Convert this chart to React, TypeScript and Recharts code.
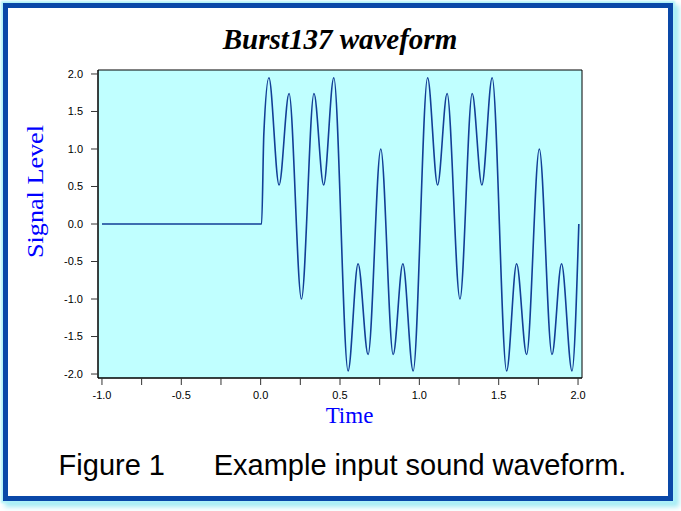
// Burst137Chart.tsx
import { LineChart, Line, XAxis, YAxis, CartesianGrid, ReferenceArea } from "recharts";

// time (s) and signal level, mostly at the turning points
const times = [
  -1.0, 0.006, 0.02, 0.052, 0.116, 0.179, 0.257, 0.336, 0.397, 0.461, 0.551,
  0.614, 0.677, 0.757, 0.835, 0.896, 0.961, 1.052, 1.115, 1.175, 1.256, 1.333,
  1.394, 1.459, 1.55, 1.613, 1.676, 1.756, 1.836, 1.896, 1.962, 2.005,
];
const levels = [
  0, 0, 1.2, 1.95, 0.52, 1.74, -1.0, 1.74, 0.52, 1.95, -1.96,
  -0.53, -1.74, 1.0, -1.74, -0.53, -1.96, 1.95, 0.52, 1.74, -1.0, 1.74,
  0.52, 1.95, -1.96, -0.53, -1.74, 1.0, -1.74, -0.53, -1.96, 0,
];

const xTicks = [-1, -0.75, -0.5, -0.25, 0, 0.25, 0.5, 0.75, 1, 1.25, 1.5, 1.75, 2];
const yTicks = [-2, -1.5, -1, -0.5, 0, 0.5, 1, 1.5, 2];

const data = times.map((t, i) => ({ t, v: levels[i] }));

const tickFont = { fontFamily: "'Liberation Sans', Arial, sans-serif", fontSize: 11, fill: "#000" };

const xLabel = (v: number) => (Math.abs(v * 2 - Math.round(v * 2)) < 1e-6 ? v.toFixed(1) : "");

export default function App() {
  return (
    <div
      style={{
        position: "absolute",
        left: 0,
        top: 0,
        width: 681,
        height: 511,
        background: "#fff",
        overflow: "hidden",
      }}
    >
      <div
        style={{
          position: "absolute",
          left: 3,
          top: 3,
          width: 660,
          height: 488,
          border: "5px solid #0a48a8",
          boxShadow: "0 0 2px 2px #b0f2f8, 4px 4px 5px 2px #a4ecf4",
          background: "#fff",
        }}
      />
      <div style={{ position: "absolute", left: 0, top: 0 }}>
        <LineChart width={681} height={511} data={data} margin={{ top: 70, right: 99, bottom: 103, left: 0 }}>
          <CartesianGrid fill="#c0ffff" fillOpacity={1} horizontal={false} vertical={false} />
          <ReferenceArea
            x1={-1.025}
            x2={2.025}
            y1={-2.053}
            y2={2.053}
            fill="none"
            fillOpacity={0}
            stroke="#000"
            strokeWidth={1}
            ifOverflow="visible"
          />
          <XAxis
            type="number"
            dataKey="t"
            domain={[-1.025, 2.025]}
            allowDataOverflow
            ticks={xTicks}
            interval={0}
            tickFormatter={xLabel}
            tickSize={7}
            tickMargin={6}
            height={30}
            axisLine={{ stroke: "#000" }}
            tickLine={{ stroke: "#333" }}
            tick={tickFont}
          />
          <YAxis
            type="number"
            domain={[-2.053, 2.053]}
            allowDataOverflow
            ticks={yTicks}
            interval={0}
            tickFormatter={(v: number) => v.toFixed(1)}
            tickSize={7}
            tickMargin={8}
            width={98}
            axisLine={{ stroke: "#000" }}
            tickLine={{ stroke: "#333" }}
            tick={tickFont}
          />
          <Line
            type="monotone"
            dataKey="v"
            stroke="#123f96"
            strokeWidth={1.6}
            dot={false}
            isAnimationActive={false}
          />
        </LineChart>
      </div>
      <svg width={681} height={511} style={{ position: "absolute", left: 0, top: 0, pointerEvents: "none" }}>
        <text
          x={340}
          y={49}
          textAnchor="middle"
          fontFamily="'Liberation Serif', 'Times New Roman', serif"
          fontWeight="bold"
          fontStyle="italic"
          fontSize={29}
          fill="#000"
        >
          Burst137 waveform
        </text>
        <text
          transform="translate(43,191.5) rotate(-90)"
          textAnchor="middle"
          fontFamily="'Liberation Serif', 'Times New Roman', serif"
          fontSize={24}
          fill="#0000ff"
          textLength={133}
          lengthAdjust="spacingAndGlyphs"
        >
          Signal Level
        </text>
        <text
          x={349.5}
          y={422.7}
          textAnchor="middle"
          fontFamily="'Liberation Serif', 'Times New Roman', serif"
          fontSize={23}
          fill="#0000ff"
        >
          Time
        </text>
        <text x={58.6} y={475} fontFamily="'Liberation Sans', Arial, sans-serif" fontSize={29} fill="#000">
          Figure 1
        </text>
        <text x={213.7} y={475} fontFamily="'Liberation Sans', Arial, sans-serif" fontSize={29} fill="#000">
          Example input sound waveform.
        </text>
      </svg>
    </div>
  );
}
